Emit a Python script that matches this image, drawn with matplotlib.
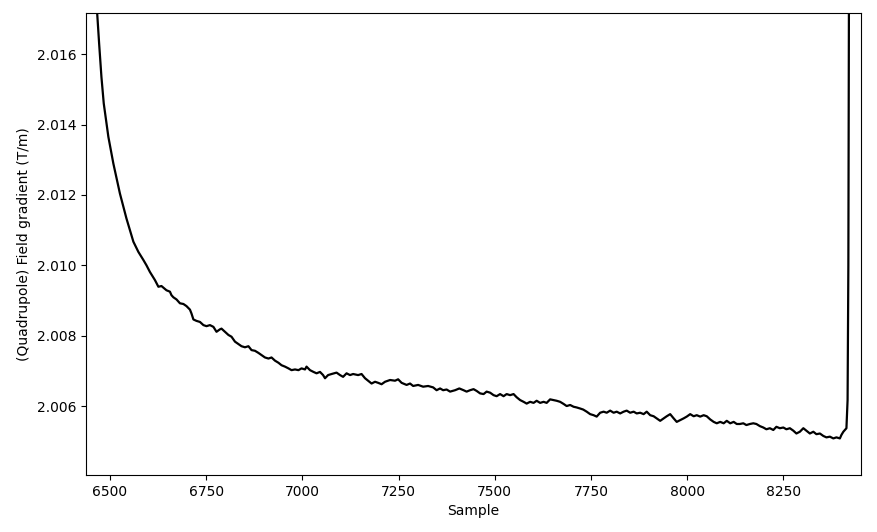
import matplotlib
matplotlib.use("Agg")
import matplotlib.pyplot as plt
from matplotlib.ticker import ScalarFormatter

samples = [
    6460, 6467, 6472, 6478, 6484, 6496, 6509, 6522, 6526, 6535, 6543, 6552, 6561, 6574,
    6587, 6595, 6604, 6617, 6626, 6634, 6647,
    6656, 6660, 6665, 6673, 6682, 6691, 6699, 6708, 6712, 6717, 6725, 6734, 6743, 6751,
    6760, 6769, 6777, 6786, 6790, 6799, 6808, 6816, 6825, 6834, 6842, 6851, 6860, 6868,
    6877, 6886, 6894, 6903, 6912, 6920, 6929, 6938, 6946, 6955, 6964, 6972, 6981, 6990,
    6998, 7007, 7011, 7020, 7029, 7037,
    7046, 7054, 7059, 7067, 7076, 7089, 7098, 7106, 7115, 7124, 7132, 7145, 7154, 7163,
    7171, 7180, 7189, 7197, 7206, 7215, 7228, 7241, 7249, 7258, 7271, 7280, 7288, 7301,
    7314, 7327, 7340, 7349, 7358, 7366, 7375, 7384, 7397, 7408,
    7419, 7427, 7436, 7445, 7453, 7462, 7471, 7479, 7488, 7497, 7505, 7514, 7523, 7531,
    7540, 7549, 7557, 7566, 7575, 7583, 7592, 7601, 7609, 7618, 7627, 7635, 7644, 7653,
    7661, 7670, 7679, 7687, 7696, 7705, 7713, 7722, 7730, 7739, 7748, 7757, 7765,
    7774, 7783, 7791, 7800, 7809, 7817, 7826, 7835, 7843, 7852, 7861, 7869, 7878, 7887,
    7895, 7904, 7913, 7921, 7930, 7939, 7947, 7956, 7965, 7973, 7982, 7991, 7999, 8008,
    8017, 8025, 8034, 8043, 8051, 8060, 8069, 8077, 8086, 8095, 8103, 8112, 8121, 8129,
    8137, 8146, 8154, 8163, 8172, 8180, 8189, 8198, 8206, 8215, 8224, 8232, 8241, 8250,
    8258, 8267, 8276, 8284, 8293, 8302, 8310, 8319, 8328, 8336, 8345, 8354, 8362, 8371,
    8380, 8388, 8397, 8401, 8406, 8410, 8414, 8416, 8417, 8419, 8421,
]

gradient = [
    2.01860, 2.01715, 2.01630, 2.01535, 2.01460, 2.01365, 2.01289, 2.01223, 2.01204,
    2.01166, 2.01133, 2.01100, 2.01067, 2.01038, 2.01015, 2.01000, 2.00981, 2.00958,
    2.00939, 2.00941, 2.00929,
    2.00925, 2.00915, 2.00909, 2.00903, 2.00892, 2.00890, 2.00884, 2.00874, 2.00863,
    2.00846, 2.00842, 2.00839, 2.00830, 2.00827, 2.00830, 2.00825, 2.00811, 2.00818,
    2.00820, 2.00811, 2.00802, 2.00797, 2.00783, 2.00776, 2.00770, 2.00767, 2.00770,
    2.00759, 2.00757, 2.00751, 2.00745, 2.00738, 2.00735, 2.00738, 2.00729, 2.00723,
    2.00716, 2.00712, 2.00707, 2.00702, 2.00704, 2.00702, 2.00707, 2.00704, 2.00712,
    2.00702, 2.00697, 2.00693,
    2.00697, 2.00688, 2.00679, 2.00688, 2.00691, 2.00695, 2.00688, 2.00683, 2.00693,
    2.00688, 2.00691, 2.00688, 2.00691, 2.00679, 2.00672, 2.00664, 2.00669, 2.00666,
    2.00662, 2.00669, 2.00674, 2.00672, 2.00676, 2.00666, 2.00660, 2.00664, 2.00657,
    2.00660, 2.00655, 2.00657, 2.00653, 2.00645, 2.00650, 2.00645, 2.00647, 2.00641,
    2.00645, 2.00650,
    2.00645, 2.00641, 2.00645, 2.00648, 2.00643, 2.00636, 2.00634, 2.00641, 2.00638,
    2.00631, 2.00628, 2.00634, 2.00628, 2.00634, 2.00631, 2.00634, 2.00625, 2.00617,
    2.00612, 2.00607, 2.00612, 2.00609, 2.00615, 2.00609, 2.00612, 2.00609, 2.00619,
    2.00617, 2.00615, 2.00612, 2.00606, 2.00600, 2.00603, 2.00598, 2.00596, 2.00593,
    2.00590, 2.00584, 2.00577, 2.00574, 2.00570,
    2.00581, 2.00584, 2.00581, 2.00587, 2.00581, 2.00584, 2.00579, 2.00584, 2.00587,
    2.00581, 2.00584, 2.00579, 2.00581, 2.00577, 2.00584, 2.00574, 2.00571, 2.00565,
    2.00558, 2.00565, 2.00571, 2.00577, 2.00565, 2.00555, 2.00560, 2.00565, 2.00570,
    2.00577, 2.00571, 2.00574, 2.00570, 2.00574, 2.00571, 2.00562, 2.00555, 2.00551,
    2.00555, 2.00551, 2.00558, 2.00551, 2.00555, 2.00549,
    2.00549, 2.00551, 2.00546, 2.00549, 2.00551, 2.00549, 2.00543, 2.00539, 2.00534,
    2.00537, 2.00532, 2.00541, 2.00537, 2.00539, 2.00534, 2.00537, 2.00530, 2.00522,
    2.00527, 2.00537, 2.00530, 2.00522, 2.00527, 2.00520, 2.00522, 2.00515, 2.00511,
    2.00513, 2.00508, 2.00511, 2.00508, 2.00518, 2.00527, 2.00532, 2.00537, 2.00589,
    2.00617, 2.01000, 2.02000,
]

fig = plt.figure(figsize=(8.78, 5.32), dpi=100)
ax = fig.add_axes([0.0980, 0.1071, 0.8827, 0.8679])
ax.plot(samples, gradient, color="black", linewidth=1.6)
ax.set_xlim(6438, 8452)
ax.set_ylim(2.00404, 2.01716)
ax.set_xticks([6500, 6750, 7000, 7250, 7500, 7750, 8000, 8250])
ax.set_yticks([2.006, 2.008, 2.010, 2.012, 2.014, 2.016])
fmt = ScalarFormatter(useOffset=False)
ax.yaxis.set_major_formatter(fmt)
ax.set_xlabel("Sample")
ax.set_ylabel("(Quadrupole) Field gradient (T/m)")
fig.savefig("out.png", dpi=100)
